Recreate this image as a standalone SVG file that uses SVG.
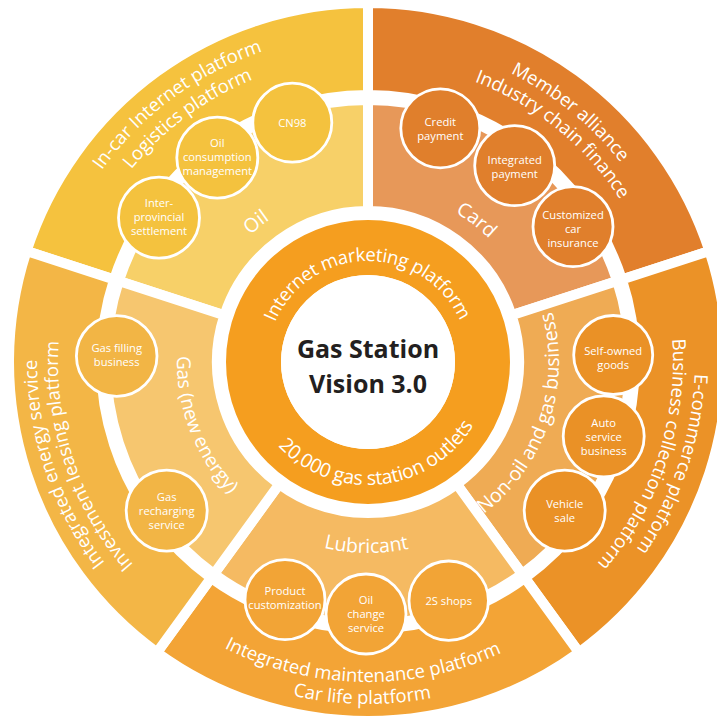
<svg xmlns="http://www.w3.org/2000/svg" width="717" height="719" viewBox="0 0 717 719">
<style>
.sec{stroke:#fff;stroke-width:10;stroke-linejoin:miter}
.node{stroke:#fff;stroke-width:2.8}
.t{font-family:"Open Sans","Noto Sans",sans-serif;fill:#fff;text-anchor:middle}
.ct{font-size:11.2px}
.ot{font-size:18.5px}
.mt{font-size:19.5px}
.it{font-size:18.5px;letter-spacing:-0.3px}
.bt{font-size:19.5px;letter-spacing:-0.2px}
.title{font-family:"Open Sans","Noto Sans",sans-serif;font-weight:700;font-size:25px;fill:#231f20;text-anchor:middle}
</style>
<defs>
<path id="cw328" d="M44.98,305.04 A328,328 0 0 1 691.02,305.04"/>
<path id="cw305" d="M67.63,309.04 A305,305 0 0 1 668.37,309.04"/>
<path id="cw322" d="M50.89,306.08 A322,322 0 0 1 685.11,306.08"/>
<path id="cw300" d="M72.56,309.90 A300,300 0 0 1 663.44,309.90"/>
<path id="cw327" d="M45.97,305.22 A327,327 0 0 1 690.03,305.22"/>
<path id="cw331" d="M42.03,304.52 A331,331 0 0 1 693.97,304.52"/>
<path id="cw310" d="M62.71,308.17 A310,310 0 0 1 673.29,308.17"/>
<path id="cw173" d="M197.63,331.96 A173,173 0 0 1 538.37,331.96"/>
<path id="cw101" d="M268.53,344.46 A101,101 0 0 1 467.47,344.46"/>
<path id="ccw320" d="M52.86,417.57 A320,320 0 0 0 683.14,417.57"/>
<path id="ccw342" d="M31.20,421.39 A342,342 0 0 0 704.80,421.39"/>
<path id="ccw191" d="M179.90,395.17 A191,191 0 0 0 556.10,395.17"/>
<path id="ccw123" d="M246.87,383.36 A123,123 0 0 0 489.13,383.36"/>
</defs>

<g id="oil-outer">
<path class="sec" fill="#F5C23E" d="M114.07,279.49 L26.57,251.06 A359,359 0 0 1 368,3 L368,95 A267,267 0 0 0 114.07,279.49Z"/>
<text class="t ot" transform="rotate(-36.5 368 362)"><textPath href="#cw328" startOffset="50%">In-car Internet platform</textPath><textPath href="#cw305" startOffset="50%">Logistics platform</textPath></text>
</g>
<g id="card-outer">
<path class="sec" fill="#E17F2C" d="M368,95 L368,3 A359,359 0 0 1 709.43,251.06 L621.93,279.49 A267,267 0 0 0 368,95Z"/>
<text class="t ot" transform="rotate(39 368 362)"><textPath href="#cw322" startOffset="50%">Member alliance</textPath><textPath href="#cw300" startOffset="50%">Industry chain finance</textPath></text>
</g>
<g id="nonoil-outer">
<path class="sec" fill="#EB9227" d="M621.93,279.49 L709.43,251.06 A359,359 0 0 1 579.02,652.44 L524.94,578.01 A267,267 0 0 0 621.93,279.49Z"/>
<text class="t ot" transform="rotate(108.5 368 362)"><textPath href="#cw327" startOffset="50%">E-commerce platform</textPath><textPath href="#cw305" startOffset="50%">Business collection platform</textPath></text>
</g>
<g id="lubricant-outer">
<path class="sec" fill="#F3A436" d="M524.94,578.01 L579.02,652.44 A359,359 0 0 1 156.98,652.44 L211.06,578.01 A267,267 0 0 0 524.94,578.01Z"/>
<text class="t ot" transform="rotate(1 368 362)"><textPath href="#ccw320" startOffset="50%">Integrated maintenance platform</textPath><textPath href="#ccw342" startOffset="50%">Car life platform</textPath></text>
</g>
<g id="gas-outer">
<path class="sec" fill="#F3B646" d="M211.06,578.01 L156.98,652.44 A359,359 0 0 1 26.57,251.06 L114.07,279.49 A267,267 0 0 0 211.06,578.01Z"/>
<text class="t ot" transform="rotate(251.5 368 362)"><textPath href="#cw331" startOffset="50%">Integrated energy service</textPath><textPath href="#cw310" startOffset="50%">Investment leasing platform</textPath></text>
</g>

<g id="oil-middle">
<path class="sec" fill="#F7D068" d="M224.39,315.34 L118.82,281.04 A262,262 0 0 1 368,100 L368,211 A151,151 0 0 0 224.39,315.34Z"/>
<text class="t mt" transform="rotate(-38.7 368 362)"><textPath href="#cw173" startOffset="50%">Oil</textPath></text>
</g>
<g id="card-middle">
<path class="sec" fill="#E79859" d="M368,211 L368,100 A262,262 0 0 1 617.18,281.04 L511.61,315.34 A151,151 0 0 0 368,211Z"/>
<text class="t mt" transform="rotate(37.4 368 362)"><textPath href="#cw173" startOffset="50%">Card</textPath></text>
</g>
<g id="nonoil-middle">
<path class="sec" fill="#EFAB54" d="M511.61,315.34 L617.18,281.04 A262,262 0 0 1 522.00,573.96 L456.76,484.16 A151,151 0 0 0 511.61,315.34Z"/>
<text class="t mt" transform="rotate(-71.3 368 362)"><textPath href="#ccw191" startOffset="50%">Non-oil and gas business</textPath></text>
</g>
<g id="lubricant-middle">
<path class="sec" fill="#F5BA62" d="M456.76,484.16 L522.00,573.96 A262,262 0 0 1 214.00,573.96 L279.24,484.16 A151,151 0 0 0 456.76,484.16Z"/>
<text class="t mt" transform="rotate(0.5 368 362)"><textPath href="#ccw191" startOffset="50%">Lubricant</textPath></text>
</g>
<g id="gas-middle">
<path class="sec" fill="#F6C66F" d="M279.24,484.16 L214.00,573.96 A262,262 0 0 1 118.82,281.04 L224.39,315.34 A151,151 0 0 0 279.24,484.16Z"/>
<text class="t mt" style="font-size:19px" transform="rotate(69 368 362)"><textPath href="#ccw191" startOffset="50%">Gas (new energy)</textPath></text>
</g>

<g id="platform-ring">
<circle cx="368" cy="362" r="114.5" fill="none" stroke="#F59E1F" stroke-width="55"/>
<text class="t it" transform="rotate(-0.5 368 362)"><textPath href="#cw101" startOffset="50%">Internet marketing platform</textPath></text>
<text class="t bt" transform="rotate(-6 368 362)"><textPath href="#ccw123" startOffset="50%">20,000 gas station outlets</textPath></text>
</g>

<g id="center">
<circle cx="368" cy="362" r="87" fill="#fff"/>
<text class="title"><tspan x="368" y="357.7">Gas Station</tspan><tspan x="368" y="393.3">Vision 3.0</tspan></text>
</g>

<g id="n-cn98"><circle class="node" cx="292.3" cy="122.7" r="39.5" fill="#F4C23E"/><text class="t ct" x="292.3" y="126.7">CN98</text></g>
<g id="n-oil-consumption"><circle class="node" cx="217.3" cy="157.7" r="40.5" fill="#F4C23E"/><text class="t ct"><tspan x="217.3" y="146.5">Oil</tspan><tspan x="217.3" y="160.5">consumption</tspan><tspan x="217.3" y="174.5">management</tspan></text></g>
<g id="n-inter-provincial"><circle class="node" cx="159" cy="217.7" r="40.5" fill="#F4C23E"/><text class="t ct"><tspan x="159" y="207.3">Inter-</tspan><tspan x="159" y="221.3">provincial</tspan><tspan x="159" y="235.3">settlement</tspan></text></g>

<g id="n-credit"><circle class="node" cx="440.3" cy="128.3" r="39.5" fill="#E07F2C"/><text class="t ct"><tspan x="440.3" y="125.7">Credit</tspan><tspan x="440.3" y="139.7">payment</tspan></text></g>
<g id="n-integrated-payment"><circle class="node" cx="514.7" cy="165.7" r="40" fill="#E07F2C"/><text class="t ct"><tspan x="514.7" y="163.5">Integrated</tspan><tspan x="514.7" y="177.5">payment</tspan></text></g>
<g id="n-customized"><circle class="node" cx="573" cy="226.7" r="40" fill="#E07F2C"/><text class="t ct"><tspan x="573" y="219">Customized</tspan><tspan x="573" y="233">car</tspan><tspan x="573" y="247">insurance</tspan></text></g>

<g id="n-self-owned"><circle class="node" cx="613.2" cy="355" r="39.5" fill="#EA9126"/><text class="t ct"><tspan x="613.2" y="354.5">Self-owned</tspan><tspan x="613.2" y="368.5">goods</tspan></text></g>
<g id="n-auto-service"><circle class="node" cx="603.7" cy="436.3" r="40.5" fill="#EA9126"/><text class="t ct"><tspan x="603.7" y="427.3">Auto</tspan><tspan x="603.7" y="441.3">service</tspan><tspan x="603.7" y="455.3">business</tspan></text></g>
<g id="n-vehicle-sale"><circle class="node" cx="564.7" cy="510.7" r="40.5" fill="#EA9126"/><text class="t ct"><tspan x="564.7" y="508.3">Vehicle</tspan><tspan x="564.7" y="522.3">sale</tspan></text></g>

<g id="n-product-customization"><circle class="node" cx="285" cy="599.7" r="40" fill="#F2A436"/><text class="t ct"><tspan x="285" y="595.3">Product</tspan><tspan x="285" y="609.3">customization</tspan></text></g>
<g id="n-oil-change"><circle class="node" cx="366" cy="614" r="40" fill="#F2A436"/><text class="t ct"><tspan x="366" y="604">Oil</tspan><tspan x="366" y="618">change</tspan><tspan x="366" y="632">service</tspan></text></g>
<g id="n-2s-shops"><circle class="node" cx="448.7" cy="600.7" r="39.7" fill="#F2A436"/><text class="t ct" x="448.7" y="604.7">2S shops</text></g>

<g id="n-gas-filling"><circle class="node" cx="116.7" cy="356" r="40.3" fill="#F2B545"/><text class="t ct"><tspan x="116.7" y="352">Gas filling</tspan><tspan x="116.7" y="366">business</tspan></text></g>
<g id="n-gas-recharging"><circle class="node" cx="166.7" cy="510.7" r="40.5" fill="#F2B545"/><text class="t ct"><tspan x="166.7" y="500.5">Gas</tspan><tspan x="166.7" y="514.5">recharging</tspan><tspan x="166.7" y="528.5">service</tspan></text></g>
</svg>
